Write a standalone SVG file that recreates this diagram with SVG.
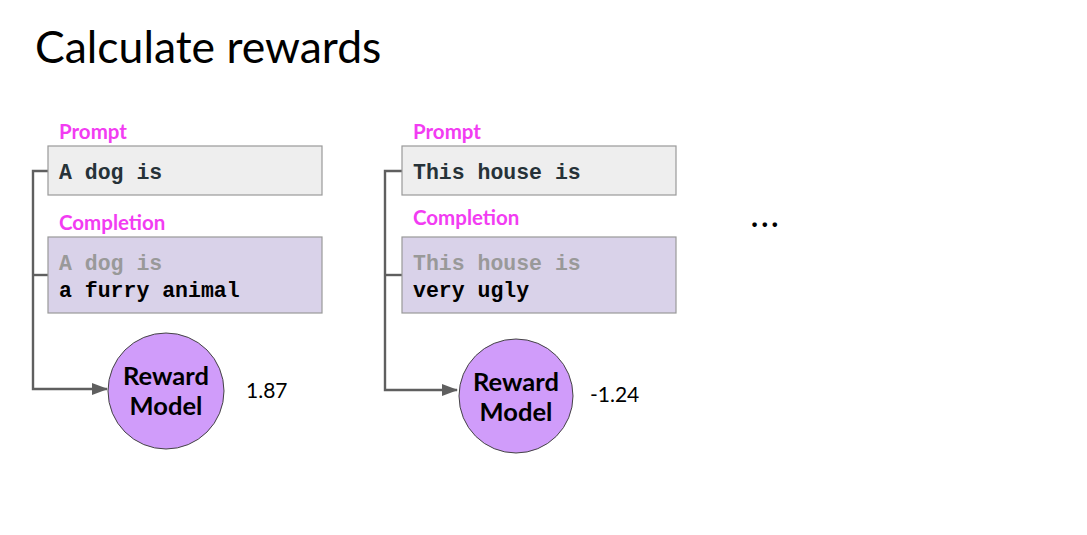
<svg xmlns="http://www.w3.org/2000/svg" width="1087" height="535" viewBox="0 0 1087 535">
<style>
.title{font-family:Lato,"Liberation Sans",sans-serif;font-size:44.5px;fill:#000}
.lbl{font-family:Lato,"Liberation Sans",sans-serif;font-weight:bold;font-size:20.5px;fill:#f23cf2}
.pbox{fill:#eeeeee;stroke:#999;stroke-width:1.2}
.cbox{fill:#d9d2e9;stroke:#999;stroke-width:1.2}
.mono{font-family:"Liberation Mono","Courier New",monospace;font-weight:bold;font-size:21.5px}
.dark{fill:#263238}
.gray{fill:#999}
.blk{fill:#000}
.rm{fill:#d09cfa;stroke:#444;stroke-width:1}
.rmt{font-family:Lato,"Liberation Sans",sans-serif;font-weight:bold;font-size:25.5px;fill:#000;text-anchor:middle}
.val{font-family:Lato,"Liberation Sans",sans-serif;font-size:21px;fill:#000}
.conn{fill:none;stroke:#5f5f5f;stroke-width:2.4}
</style>
<defs>
<marker id="arrh" markerWidth="16" markerHeight="12" refX="15" refY="6" orient="auto" markerUnits="userSpaceOnUse" viewBox="0 0 16 12">
<path d="M0,0 L16,6 L0,12 z" fill="#5f5f5f"/>
</marker>
</defs>
<rect width="1087" height="535" fill="#fff"/>
<text class="title" x="35" y="63">Calculate rewards</text>

<g id="connectors">
<path class="conn" d="M48,171 H33 V389 H107" marker-end="url(#arrh)"/>
<path class="conn" d="M33,275 H48"/>
<path class="conn" d="M402,171 H385 V390 H457" marker-end="url(#arrh)"/>
<path class="conn" d="M385,275 H402"/>
</g>

<g id="prompt1">
<text class="lbl" x="59" y="139">Prompt</text>
<rect class="pbox" x="48" y="146" width="274" height="49"/>
<text class="mono dark" x="59" y="179">A dog is</text>
</g>
<g id="completion1">
<text class="lbl" x="59" y="230">Completion</text>
<rect class="cbox" x="48" y="237" width="274" height="76"/>
<text class="mono gray" x="59" y="270">A dog is</text>
<text class="mono blk" x="59" y="297">a furry animal</text>
</g>
<g id="reward1">
<circle class="rm" cx="166" cy="391" r="58"/>
<text class="rmt" x="166" y="385">Reward</text>
<text class="rmt" x="166" y="415">Model</text>
<text class="val" x="246" y="398">1.87</text>
</g>

<g id="prompt2">
<text class="lbl" x="413" y="139">Prompt</text>
<rect class="pbox" x="402" y="146" width="274" height="49"/>
<text class="mono dark" x="413" y="179">This house is</text>
</g>
<g id="completion2">
<text class="lbl" x="413" y="225">Completion</text>
<rect class="cbox" x="402" y="237" width="274" height="76"/>
<text class="mono gray" x="413" y="270">This house is</text>
<text class="mono blk" x="413" y="297">very ugly</text>
</g>
<g id="reward2">
<circle class="rm" cx="516" cy="396" r="57"/>
<text class="rmt" x="516" y="391">Reward</text>
<text class="rmt" x="516" y="421">Model</text>
<text class="val" x="590" y="402">-1.24</text>
</g>

<g id="ellipsis">
<text x="751" y="227" style="font-family:Lato,'Liberation Sans',sans-serif;font-weight:bold;font-size:30px;letter-spacing:3px;fill:#000">...</text>
</g>
</svg>
